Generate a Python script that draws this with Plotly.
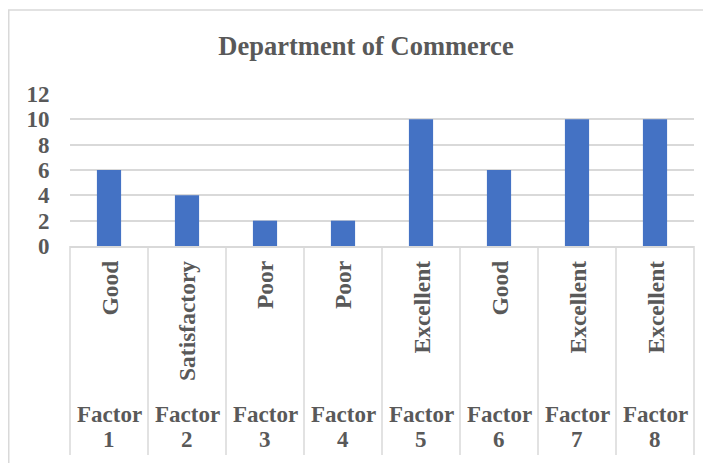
import plotly.graph_objects as go

TITLE = "Department of Commerce"
FACTORS = ["Factor 1", "Factor 2", "Factor 3", "Factor 4", "Factor 5", "Factor 6", "Factor 7", "Factor 8"]
RATINGS = ["Good", "Satisfactory", "Poor", "Poor", "Excellent", "Good", "Excellent", "Excellent"]
SCORES = [6, 4, 2, 2, 10, 6, 10, 10]
Y_TICKS = [0, 2, 4, 6, 8, 10, 12]

BAR_COLOR = "#4472C4"
TEXT_COLOR = "#595959"
LINE_COLOR = "#d9d9d9"
SERIF = "Times New Roman, Liberation Serif, serif"

# the page body adds an 8px margin, so the figure is laid out 8px up/left
PAGE_PAD = 8
WIDTH, HEIGHT = 711, 463
LEFT = 70 - PAGE_PAD
TOP = 94 - PAGE_PAD
PLOT_RIGHT = 694 - PAGE_PAD
PLOT_BOTTOM = 246 - PAGE_PAD
RIGHT = WIDTH - PLOT_RIGHT
BOTTOM = HEIGHT - PLOT_BOTTOM


def label_font(size):
    return dict(family=SERIF, size=size, color=TEXT_COLOR, weight="bold")


fig = go.Figure(
    go.Bar(x=FACTORS, y=SCORES, marker_color=BAR_COLOR, marker_line_width=0, hoverinfo="skip")
)

plot_w = PLOT_RIGHT - LEFT
plot_h = PLOT_BOTTOM - TOP


def px_x(x):
    return (x - LEFT) / plot_w


def px_y(y):
    return (PLOT_BOTTOM - y) / plot_h


# chart border (Excel chart area), cut off at right and bottom in the source
fig.add_shape(
    type="rect", xref="paper", yref="paper",
    x0=px_x(0.75), x1=px_x(WIDTH + 20), y0=px_y(HEIGHT + 20), y1=px_y(2),
    line=dict(color=LINE_COLOR, width=1.5), layer="below",
)

# category dividers running through both label levels
n = len(FACTORS)
for i in range(n + 1):
    fig.add_shape(
        type="line", xref="paper", yref="paper",
        x0=i / n, x1=i / n, y0=0, y1=px_y(PLOT_BOTTOM + 209),
        line=dict(color=LINE_COLOR, width=1.5),
    )

for rating, factor in zip(RATINGS, FACTORS):
    fig.add_annotation(
        x=factor, y=0, xref="x", yref="y", text=rating, textangle=-90,
        showarrow=False, yanchor="top", xanchor="center", yshift=-13,
        font=label_font(23.5),
    )
    word, num = factor.split(" ")
    fig.add_annotation(
        x=factor, y=0, xref="x", yref="y", text=word, showarrow=False,
        yanchor="middle", yshift=-168, font=label_font(23),
    )
    fig.add_annotation(
        x=factor, y=0, xref="x", yref="y", text=num, showarrow=False,
        yanchor="middle", yshift=-193, font=label_font(23),
    )

fig.update_layout(
    width=WIDTH,
    height=HEIGHT,
    margin=dict(l=LEFT, r=RIGHT, t=TOP, b=BOTTOM, autoexpand=False),
    paper_bgcolor="white",
    plot_bgcolor="white",
    bargap=0.69,
    showlegend=False,
    title=dict(
        text=TITLE, x=px_x(366 - PAGE_PAD), xref="paper", xanchor="center",
        y=1 - (46 - PAGE_PAD) / HEIGHT, yref="container", yanchor="middle",
        font=label_font(26.5),
    ),
)
fig.update_xaxes(
    range=[-0.5, n - 0.5], showticklabels=False, showgrid=False, automargin=False,
    showline=True, linecolor=LINE_COLOR, linewidth=1.5, ticks="", zeroline=False,
)
fig.update_yaxes(
    range=[0, 12], tickvals=Y_TICKS, showgrid=True, gridcolor=LINE_COLOR, gridwidth=1.5,
    zeroline=False, showline=False, ticks="outside", ticklen=15, tickcolor="rgba(0,0,0,0)",
    tickfont=label_font(23), automargin=False,
)

fig.write_html("out.html")
